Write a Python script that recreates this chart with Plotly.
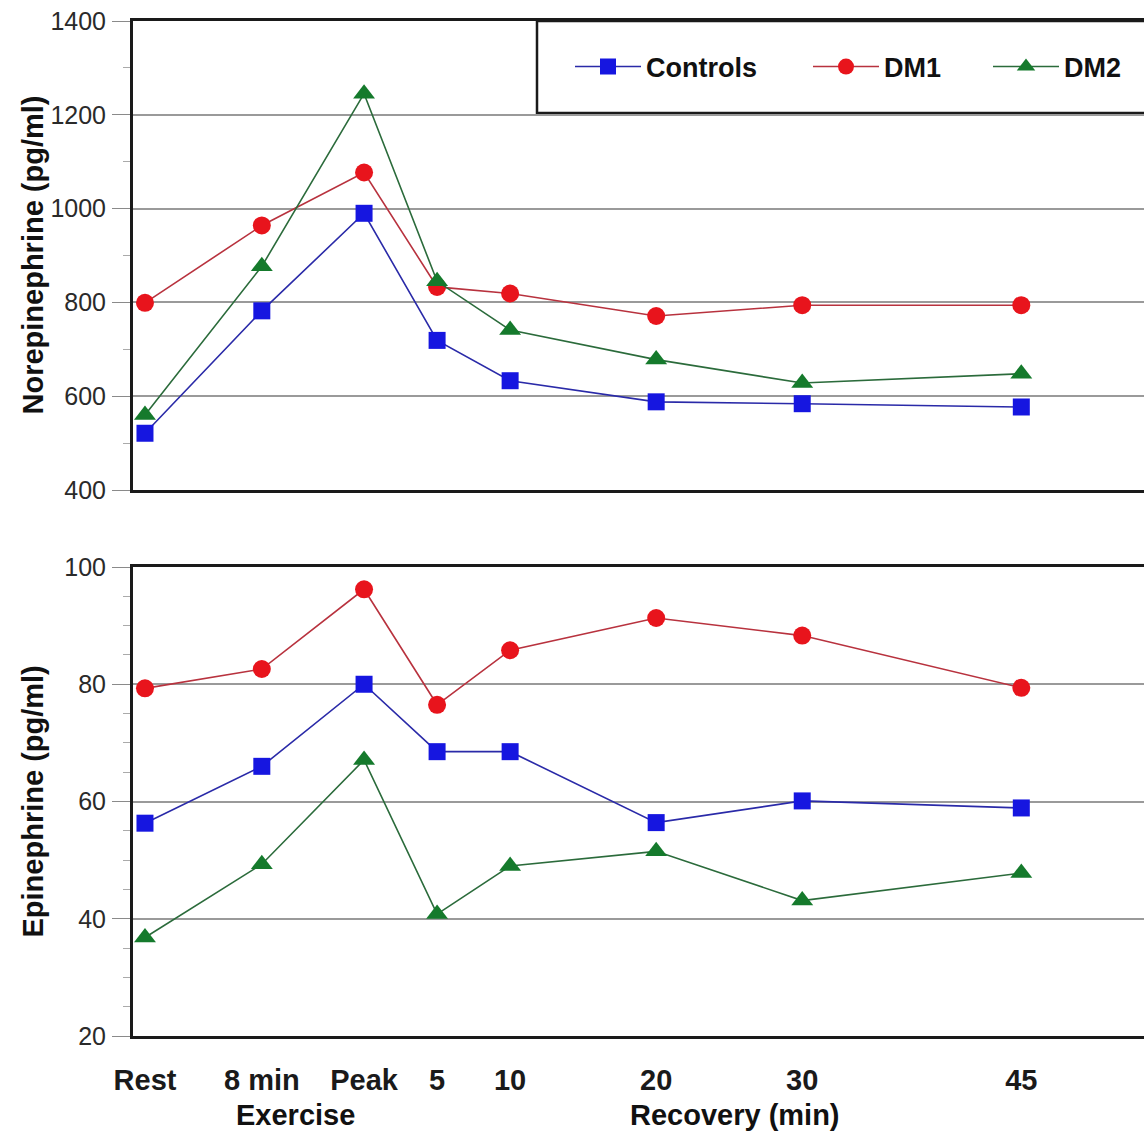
import plotly.graph_objects as go
from plotly.subplots import make_subplots

# ---- data ----
x_time = [0, 8, 15, 20, 25, 35, 45, 60]
x_labels = ["Rest", "8 min", "Peak", "5", "10", "20", "30", "45"]
groups = ["Controls", "DM1", "DM2"]
ne_controls = [521, 782, 990, 719, 633, 588, 584, 577]
ne_dm1 = [799, 964, 1077, 833, 819, 771, 794, 794]
ne_dm2 = [560, 877, 1245, 845, 741, 678, 628, 648]
epi_controls = [56.3, 66.0, 80.0, 68.5, 68.5, 56.4, 60.1, 58.9]
epi_dm1 = [79.3, 82.6, 96.2, 76.5, 85.8, 91.3, 88.3, 79.4]
epi_dm2 = [36.8, 49.3, 67.1, 40.8, 49.0, 51.5, 43.1, 47.8]
ne_ticks = [400, 600, 800, 1000, 1200, 1400]
epi_ticks = [20, 40, 60, 80, 100]

W, H = 1144, 1135
L, R, T, B = 133, 0, 21, 99
plot_w = W - L - R
plot_h = H - T - B
top_bottom_px = 490
bot_top_px = 567
top_dom = [(H - B - top_bottom_px) / plot_h, 1.0]
bot_dom = [0.0, (H - B - bot_top_px) / plot_h]

FONT = "Liberation Sans, Arial, sans-serif"

styles = {
    "Controls": dict(marker=dict(symbol="square", size=17, color="#1616e0"),
                     line=dict(color="#2a2aa8", width=1.6)),
    "DM1": dict(marker=dict(symbol="circle", size=18, color="#e8141c"),
                line=dict(color="#b8323e", width=1.6)),
    "DM2": dict(marker=dict(symbol="triangle-up", size=19, color="#157a2c"),
                line=dict(color="#2b6b3b", width=1.6)),
}
legend_ids = {"Controls": "legend", "DM1": "legend2", "DM2": "legend3"}
legend_px = {"Controls": 570, "DM1": 808, "DM2": 988}

fig = make_subplots(rows=2, cols=1)
for name, yv in zip(groups, [ne_controls, ne_dm1, ne_dm2]):
    fig.add_trace(go.Scatter(x=x_time, y=yv, mode="lines+markers", name=name,
                             legend=legend_ids[name], showlegend=True, **styles[name]),
                  row=1, col=1)
for name, yv in zip(groups, [epi_controls, epi_dm1, epi_dm2]):
    fig.add_trace(go.Scatter(x=x_time, y=yv, mode="lines+markers", name=name,
                             showlegend=False, **styles[name]), row=2, col=1)

xrange = [-0.82, 68.4]
axis_line = dict(showline=True, linecolor="#1a1a1a", linewidth=3)


def leg(name):
    return dict(orientation="h", x=(legend_px[name] - L) / plot_w, xanchor="left",
                y=1 - 46 / plot_h, yanchor="middle",
                bgcolor="rgba(0,0,0,0)", borderwidth=0, itemwidth=66,
                font=dict(size=27, family=FONT, weight="bold", color="#111"),
                itemsizing="trace")


fig.update_layout(
    width=W, height=H,
    margin=dict(l=L, r=R, t=T, b=B, pad=0),
    paper_bgcolor="white", plot_bgcolor="white",
    font=dict(family=FONT, color="#1a1a1a"),
    xaxis=dict(domain=[0, 1], anchor="y", range=xrange, showgrid=False, zeroline=False,
               showticklabels=False, ticks="", mirror=True, **axis_line),
    xaxis2=dict(domain=[0, 1], anchor="y2", range=xrange, showgrid=False, zeroline=False,
                tickmode="array", tickvals=x_time, ticktext=x_labels, ticks="",
                ticklabelstandoff=16,
                tickfont=dict(size=29, family=FONT, weight="bold"),
                mirror=True, **axis_line),
    yaxis=dict(domain=top_dom, anchor="x", range=[400, 1400], tickmode="array", tickvals=ne_ticks,
               showgrid=True, gridcolor="#9a9a9a", gridwidth=1.5, zeroline=False,
               ticks="outside", ticklen=18, tickwidth=1.2, tickcolor="#8a8a8a",
               minor=dict(dtick=100, ticks="outside", ticklen=7, tickwidth=1, tickcolor="#aaaaaa",
                          showgrid=False),
               ticklabelstandoff=1,
               tickfont=dict(size=25, color="#2a2a2a"), mirror=False, **axis_line),
    yaxis2=dict(domain=bot_dom, anchor="x2", range=[20, 100], tickmode="array", tickvals=epi_ticks,
                showgrid=True, gridcolor="#9a9a9a", gridwidth=1.5, zeroline=False,
                ticks="outside", ticklen=18, tickwidth=1.2, tickcolor="#8a8a8a",
                minor=dict(dtick=5, ticks="outside", ticklen=7, tickwidth=1, tickcolor="#aaaaaa",
                           showgrid=False),
                ticklabelstandoff=1,
                tickfont=dict(size=25, color="#2a2a2a"), mirror=False, **axis_line),
    legend=leg("Controls"), legend2=leg("DM1"), legend3=leg("DM2"),
    showlegend=True,
)

# legend frame
fig.add_shape(type="rect", xref="paper", yref="paper",
              x0=(537 - L) / plot_w, x1=1.05, y0=(H - B - 113) / plot_h, y1=1.0,
              line=dict(color="#1a1a1a", width=2.5), fillcolor="white", layer="below")

# axis titles
fig.add_annotation(text="<b>Norepinephrine (pg/ml)</b>", xref="paper", yref="paper",
                   x=0, xshift=-101, y=(top_dom[0] + top_dom[1]) / 2, textangle=-90,
                   showarrow=False, font=dict(size=29, color="#111"), xanchor="center", yanchor="middle")
fig.add_annotation(text="<b>Epinephrine (pg/ml)</b>", xref="paper", yref="paper",
                   x=0, xshift=-101, y=(bot_dom[0] + bot_dom[1]) / 2, textangle=-90,
                   showarrow=False, font=dict(size=29, color="#111"), xanchor="center", yanchor="middle")
fig.add_annotation(text="<b>Exercise</b>", xref="paper", yref="paper",
                   x=(295 - L) / plot_w, y=0, yshift=-79, showarrow=False,
                   font=dict(size=29, color="#111"), xanchor="center", yanchor="middle")
fig.add_annotation(text="<b>Recovery (min)</b>", xref="paper", yref="paper",
                   x=(735 - L) / plot_w, y=0, yshift=-79, showarrow=False,
                   font=dict(size=29, color="#111"), xanchor="center", yanchor="middle")

fig.write_html("out.html", config={"displayModeBar": False},
               post_script="document.body.style.margin='0';document.body.style.overflow='hidden';")
